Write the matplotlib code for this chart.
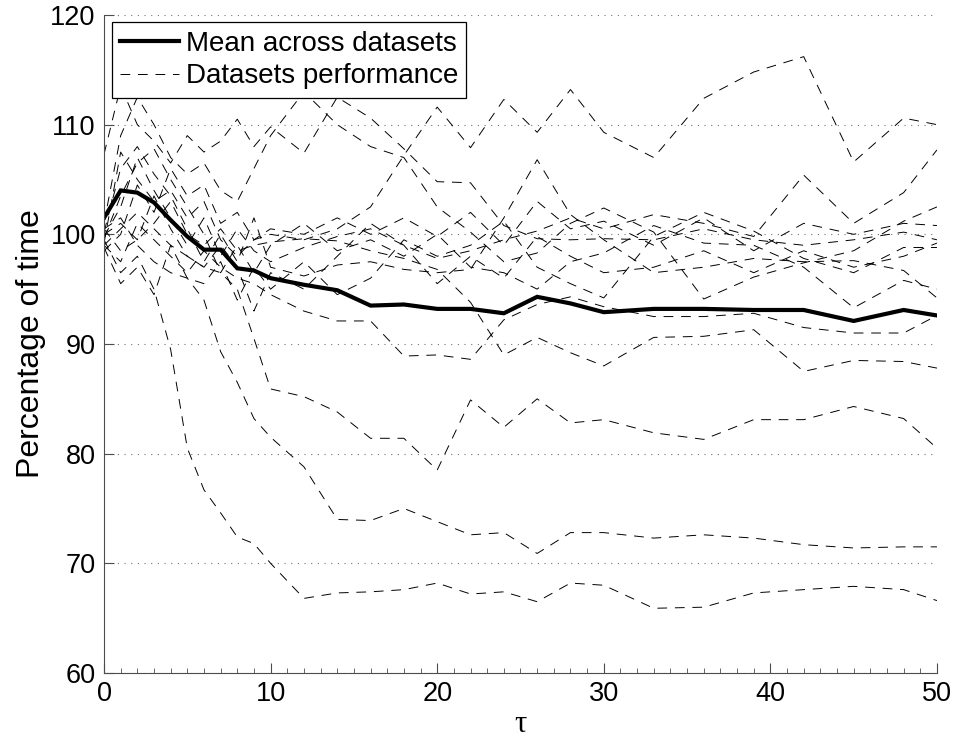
import matplotlib
matplotlib.use("Agg")
import matplotlib.pyplot as plt
import numpy as np

# tau values
tau = [0, 1, 2, 3, 4, 5, 6, 7, 8, 9, 10, 12, 14, 16, 18, 20, 22, 24, 26, 28, 30,
       33, 36, 39, 42, 45, 48, 50]

# mean across datasets
mean_perf = [101.5, 104.0, 103.8, 102.9, 101.3, 99.8, 98.6, 98.6, 96.9, 96.7, 96.0,
             95.4, 94.9, 93.5, 93.6, 93.2, 93.2, 92.8, 94.3, 93.7, 92.9,
             93.2, 93.2, 93.1, 93.1, 92.1, 93.1, 92.6]

# one list per dataset
ds01 = [99.5, 96.5, 98.0, 95.0, 89.5, 80.5, 76.7, 74.6, 72.4, 71.8, 70.0,
        66.8, 67.3, 67.4, 67.6, 68.2, 67.2, 67.4, 66.5, 68.2, 68.0,
        65.9, 66.0, 67.3, 67.6, 67.9, 67.6, 66.6]
ds02 = [100.5, 101.5, 99.0, 97.5, 96.5, 96.0, 94.0, 89.3, 86.5, 83.2, 81.5,
        78.8, 74.0, 73.9, 75.0, 73.8, 72.6, 72.8, 70.9, 72.8, 72.8,
        72.3, 72.6, 72.3, 71.7, 71.4, 71.5, 71.5]
ds03 = [99.0, 100.5, 102.0, 100.5, 99.0, 98.0, 97.0, 96.5, 95.0, 90.5, 85.9,
        85.2, 83.8, 81.4, 81.4, 78.5, 84.9, 82.4, 85.0, 82.8, 83.1,
        81.9, 81.3, 83.1, 83.1, 84.3, 83.2, 80.5]
ds04 = [99.0, 97.5, 101.0, 99.5, 98.0, 96.5, 98.5, 97.0, 96.0, 95.5, 94.5,
        93.0, 92.1, 92.1, 88.9, 89.0, 88.6, 92.2, 93.6, 94.3, 93.4,
        92.5, 92.5, 92.8, 91.5, 91.0, 91.0, 92.6]
ds05 = [100.5, 98.5, 99.5, 101.0, 103.0, 100.0, 99.0, 100.5, 98.5, 99.0, 99.3,
        99.6, 99.4, 98.5, 97.8, 96.8, 93.8, 89.0, 90.6, 89.2, 88.0,
        90.6, 90.7, 91.3, 87.5, 88.5, 88.4, 87.8]
ds06 = [99.2, 107.5, 105.0, 103.0, 104.0, 101.5, 103.0, 99.5, 98.0, 99.5, 100.0,
        99.5, 100.5, 102.5, 107.2, 111.6, 107.9, 112.3, 109.3, 113.2, 109.3,
        107.0, 112.4, 114.8, 116.2, 106.6, 110.6, 110.0]
ds07 = [107.3, 113.5, 110.0, 108.5, 106.5, 109.0, 107.5, 108.5, 110.5, 108.0, 109.8,
        107.4, 112.5, 110.6, 107.8, 104.8, 104.7, 100.8, 99.6, 99.5, 99.6,
        99.5, 100.5, 99.5, 99.0, 99.5, 100.2, 99.5]
ds08 = [101.0, 109.0, 112.5, 110.0, 107.0, 105.5, 106.5, 104.0, 103.0, 106.0, 109.0,
        113.0, 110.0, 108.0, 107.0, 102.5, 100.2, 97.5, 98.3, 101.0, 102.4,
        100.2, 94.1, 96.1, 97.4, 98.5, 101.2, 102.5]
ds09 = [99.8, 102.5, 107.0, 104.0, 101.5, 99.0, 101.5, 98.0, 100.5, 98.5, 97.5,
        98.8, 99.8, 100.5, 99.0, 97.8, 98.5, 99.5, 100.3, 101.5, 100.5,
        101.8, 101.0, 99.8, 105.4, 101.0, 103.8, 107.7]
ds10 = [100.2, 106.0, 108.0, 105.5, 103.5, 100.5, 97.5, 100.0, 97.5, 101.5, 97.0,
        96.2, 97.2, 97.5, 96.8, 96.5, 96.8, 101.5, 106.8, 101.8, 99.5,
        96.5, 97.0, 97.8, 97.5, 97.6, 96.7, 94.2]
ds11 = [98.8, 95.5, 97.0, 94.5, 99.0, 96.0, 95.5, 97.5, 94.0, 97.0, 95.0,
        97.5, 94.5, 96.0, 99.5, 98.0, 99.0, 101.2, 97.0, 95.5, 94.2,
        99.8, 102.0, 100.3, 97.8, 96.5, 98.8, 98.8]
ds12 = [99.6, 103.5, 106.5, 107.8, 105.0, 102.5, 100.0, 96.5, 99.0, 96.5, 99.0,
        101.0, 98.5, 99.5, 98.0, 100.0, 97.0, 96.5, 95.0, 97.5, 98.3,
        100.8, 99.2, 99.0, 97.0, 93.3, 95.8, 95.0]
ds13 = [98.5, 100.0, 104.5, 102.0, 106.0, 103.5, 104.5, 101.0, 102.0, 99.5, 100.5,
        100.0, 101.5, 100.0, 101.5, 99.8, 102.0, 99.0, 103.0, 100.5, 101.2,
        99.0, 101.5, 98.5, 101.0, 100.0, 101.0, 100.8]
ds14 = [100.0, 101.0, 99.5, 103.5, 100.5, 98.0, 97.0, 99.0, 97.0, 93.0, 96.5,
        95.0, 98.0, 101.0, 99.0, 95.5, 98.0, 96.0, 99.8, 98.0, 96.5,
        97.0, 98.5, 96.5, 98.5, 97.0, 98.0, 99.2]

datasets = [ds01, ds02, ds03, ds04, ds05, ds06, ds07, ds08, ds09, ds10,
            ds11, ds12, ds13, ds14]

fig = plt.figure(figsize=(9.56, 7.38), dpi=100)
ax = fig.add_axes([0.1088, 0.0881, 0.8713, 0.8916])

# la moyenne
h_mean, = ax.plot(tau, mean_perf, color='k', lw=3.0, solid_joinstyle='miter')

# les datasets
h_ds = None
for d in datasets:
    h, = ax.plot(tau, d, color='k', lw=0.7, linestyle='--', dashes=(10, 8))
    if h_ds is None:
        h_ds = h

ax.set_xlim(0, 50)
ax.set_ylim(60, 120)
ax.set_xticks(np.arange(0, 51, 10))
ax.set_xticks(np.arange(0, 51, 1), minor=True)
ax.set_yticks(np.arange(60, 121, 10))

for sp in ['top', 'right']:
    ax.spines[sp].set_visible(False)
for sp in ['left', 'bottom']:
    ax.spines[sp].set_color('0.3')
    ax.spines[sp].set_linewidth(0.8)

ax.grid(axis='y', color='0.45', linestyle=(0, (1, 5)), lw=0.8)
ax.tick_params(axis='both', which='major', direction='in', length=7, width=0.8,
               color='0.3', labelsize=19.5, pad=6)
ax.tick_params(axis='x', which='minor', direction='in', length=3.5, width=0.6,
               color='0.3')
for lab in ax.get_xticklabels() + ax.get_yticklabels():
    lab.set_family('Liberation Sans')

ax.set_ylabel('Percentage of time', fontsize=23, family='Liberation Sans')
ax.yaxis.set_label_coords(-0.07, 0.5)
ax.set_xlabel('τ', fontsize=22, family='Liberation Serif')
ax.xaxis.set_label_coords(0.5, -0.056)

leg = ax.legend([h_mean, h_ds], ['Mean across datasets', 'Datasets performance'],
                loc='upper left', bbox_to_anchor=(0.0096, 0.989), borderaxespad=0,
                fancybox=False, framealpha=1, edgecolor='k',
                prop={'family': 'Liberation Sans', 'size': 20},
                handlelength=2.1, handletextpad=0.25, borderpad=0.3,
                labelspacing=0.25)
leg.get_frame().set_linewidth(0.9)

fig.savefig('out.png', dpi=100)
